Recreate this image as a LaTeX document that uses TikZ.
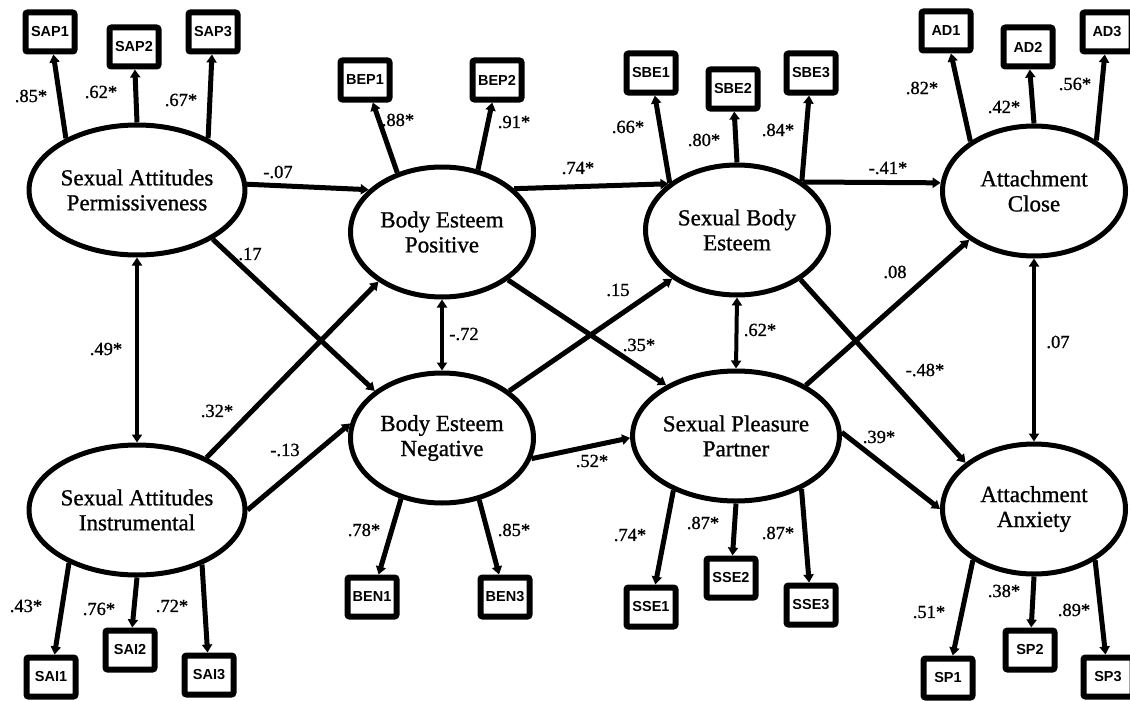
\documentclass[tikz,border=0pt]{standalone}
\usepackage{fontspec}
\setmainfont{Liberation Serif}
\newfontfamily\labelsans{Liberation Sans}
\newfontfamily\latentfont{Liberation Serif}[FakeBold=1]
\newfontfamily\coeffont{Liberation Serif}[FakeBold=1]
\usetikzlibrary{arrows.meta,shapes.geometric}

\begin{document}
\begin{tikzpicture}[x=1pt,y=-1pt,
  latent/.style={ellipse, draw, line width=5pt, minimum width=183pt, minimum height=130pt,
    inner sep=0pt, align=center, font=\latentfont\fontsize{23}{25}\selectfont},
  indicator/.style={rectangle, draw, line width=6pt, rounded corners=2pt, fill=white,
    minimum width=49pt, minimum height=39pt, inner sep=0pt,
    font=\labelsans\bfseries\fontsize{14.5}{14.5}\selectfont},
  effect/.style={line width=5pt, -{Triangle[length=8pt,width=10pt]}},
  loading/.style={line width=5pt, -{Triangle[length=8pt,width=10pt]}},
  covar/.style={line width=4pt, {Triangle[length=8pt,width=10pt]}-{Triangle[length=8pt,width=10pt]}},
  coef/.style={font=\coeffont\fontsize{18.5}{18.5}\selectfont, inner sep=0pt}
]
\useasboundingbox (0,0) rectangle (1130,701);

% latent factors
\node[latent] (sap) at (137,190) {Sexual Attitudes\\Permissiveness};
\node[latent] (bep) at (442,232) {Body Esteem\\Positive};
\node[latent] (sbe) at (737,230) {Sexual Body\\Esteem};
\node[latent] (ac)  at (1034,191) {Attachment\\Close};
\node[latent] (ben) at (442,438) {Body Esteem\\Negative};
\node[latent] (spp) at (736,436) {Sexual Pleasure\\Partner};
\node[latent] (sai) at (137,510) {Sexual Attitudes\\Instrumental};
\node[latent] (aa)  at (1034,509) {Attachment\\Anxiety};

% observed indicators
\node[indicator] (sap1) at (50,32)  {SAP1};
\node[indicator] (sap2) at (134,47) {SAP2};
\node[indicator] (sap3) at (213,32) {SAP3};
\node[indicator] (bep1) at (365,80) {BEP1};
\node[indicator] (bep2) at (497,80) {BEP2};
\node[indicator] (sbe1) at (651,73) {SBE1};
\node[indicator] (sbe2) at (733,89) {SBE2};
\node[indicator] (sbe3) at (811,73) {SBE3};
\node[indicator] (ad1)  at (946,31) {AD1};
\node[indicator] (ad2)  at (1028,47) {AD2};
\node[indicator] (ad3)  at (1107,32) {AD3};
\node[indicator] (sai1) at (51,677) {SAI1};
\node[indicator] (sai2) at (130,650) {SAI2};
\node[indicator] (sai3) at (209,675) {SAI3};
\node[indicator] (ben1) at (372,597) {BEN1};
\node[indicator] (ben3) at (505,597) {BEN3};
\node[indicator] (sse1) at (651,607) {SSE1};
\node[indicator] (sse2) at (731,578) {SSE2};
\node[indicator] (sse3) at (811,605) {SSE3};
\node[indicator] (sp1)  at (948,678) {SP1};
\node[indicator] (sp2)  at (1030,650) {SP2};
\node[indicator] (sp3)  at (1108,677) {SP3};

% factor loadings
\draw[loading] (sap.144) -- (sap1);
\draw[loading] (sap.90)  -- (sap2);
\draw[loading] (sap.36)  -- (sap3);
\draw[loading] (bep.127) -- (bep1);
\draw[loading] (bep.60)  -- (bep2);
\draw[loading] (sbe.145) -- (sbe1);
\draw[loading] (sbe.90)  -- (sbe2);
\draw[loading] (sbe.37)  -- (sbe3);
\draw[loading] (ac.142)  -- (ad1);
\draw[loading] (ac.90)   -- (ad2);
\draw[loading] (ac.39)   -- (ad3);
\draw[loading] (sai.218) -- (sai1);
\draw[loading] (sai.270) -- (sai2);
\draw[loading] (sai.320) -- (sai3);
\draw[loading] (ben.236) -- (ben1);
\draw[loading] (ben.301) -- (ben3);
\draw[loading] (spp.221) -- (sse1);
\draw[loading] (spp.270) -- (sse2);
\draw[loading] (spp.321) -- (sse3);
\draw[loading] (aa.220)  -- (sp1);
\draw[loading] (aa.270)  -- (sp2);
\draw[loading] (aa.320)  -- (sp3);

% structural paths
\draw[effect] (sap.3)   -- (bep.150);
\draw[effect] (bep.31)  -- (sbe.146);
\draw[effect] (sbe.36)  -- (ac.175);
\draw[effect] (sap.327) -- (ben.145);
\draw[effect] (sai.37)  -- (bep.218);
\draw[effect] (sai.0)   -- (ben.171);
\draw[effect] (ben.35)  -- (sbe.217);
\draw[effect] (bep.324) -- (spp.144);
\draw[effect] (ben.347) -- (spp.181);
\draw[effect] (spp.36)  -- (ac.217);
\draw[effect] (sbe.322) -- (aa.146);
\draw[effect] (spp.2)   -- (aa.180);

% correlations
\draw[covar] (sap.270) -- (sai.90);
\draw[covar] (bep.270) -- (ben.90);
\draw[covar] (sbe.270) -- (spp.90);
\draw[covar] (ac.270)  -- (aa.90);

% coefficients
\node[coef] (c1)  at (31,96)   {.85*};
\node[coef] (c2)  at (101,92)  {.62*};
\node[coef] (c3)  at (181,100) {.67*};
\node[coef] (c4)  at (278,172) {-.07};
\node[coef] (c5)  at (250,254) {.17};
\node[coef] (c6)  at (398,120) {.88*};
\node[coef] (c7)  at (514,122) {.91*};
\node[coef] (c8)  at (628,127) {.66*};
\node[coef] (c9)  at (704,140) {.80*};
\node[coef] (c10) at (578,168) {.74*};
\node[coef] (c11) at (778,130) {.84*};
\node[coef] (c12) at (888,168) {-.41*};
\node[coef] (c13) at (922,88)  {.82*};
\node[coef] (c14) at (1004,107) {.42*};
\node[coef] (c15) at (1075,84) {.56*};
\node[coef] (c16) at (106,349) {.49*};
\node[coef] (c17) at (217,411) {.32*};
\node[coef] (c18) at (285,450) {-.13};
\node[coef] (c19) at (26,606)  {.43*};
\node[coef] (c20) at (99,609)  {.76*};
\node[coef] (c21) at (172,606) {.72*};
\node[coef] (c22) at (364,530) {.78*};
\node[coef] (c23) at (514,530) {.85*};
\node[coef] (c24) at (592,461) {.52*};
\node[coef] (c25) at (630,535) {.74*};
\node[coef] (c26) at (703,523) {.87*};
\node[coef] (c27) at (778,533) {.87*};
\node[coef] (c28) at (879,437) {.39*};
\node[coef] (c29) at (929,612) {.51*};
\node[coef] (c30) at (1004,591) {.38*};
\node[coef] (c31) at (1074,610) {.89*};
\node[coef] (c32) at (464,334) {-.72};
\node[coef] (c33) at (618,290) {.15};
\node[coef] (c34) at (639,345) {.35*};
\node[coef] (c35) at (760,330) {.62*};
\node[coef] (c36) at (895,272) {.08};
\node[coef] (c37) at (925,370) {-.48*};
\node[coef] (c38) at (1058,342) {.07};
\end{tikzpicture}
\end{document}
